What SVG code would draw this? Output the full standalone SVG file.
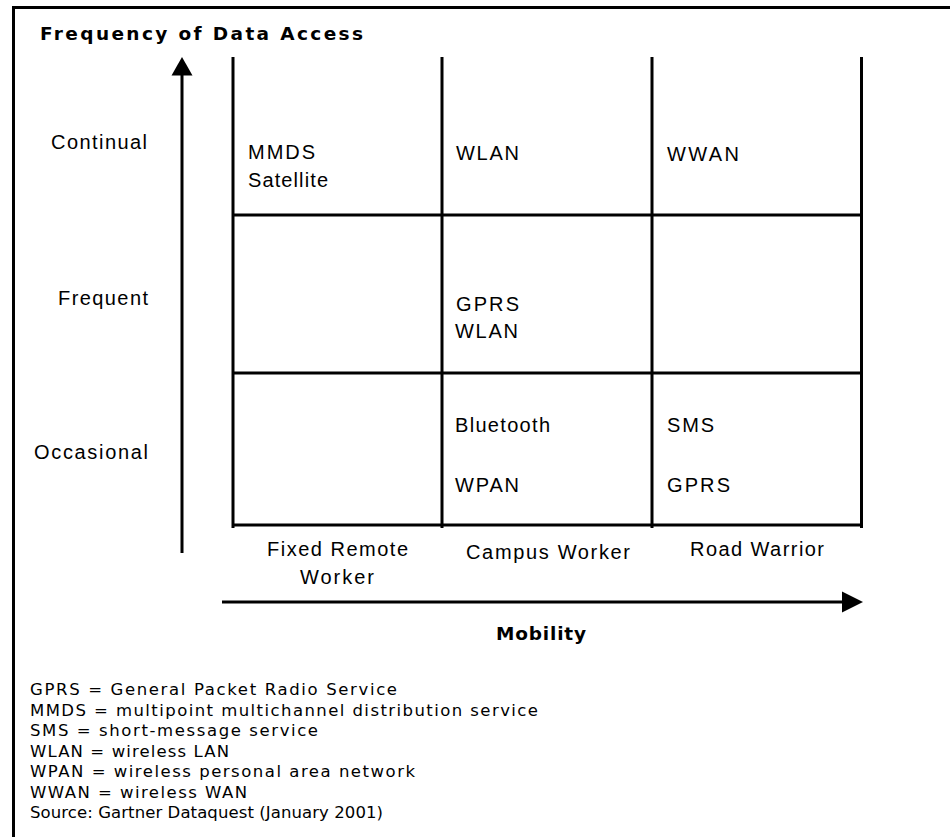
<svg xmlns="http://www.w3.org/2000/svg" width="950" height="837" viewBox="0 0 950 837">
<style>
.ln{stroke:#000;stroke-width:3;fill:none}
.lbl{font-family:"Liberation Sans",Arial,sans-serif;font-size:20px;fill:#000}
.ttl{font-family:"DejaVu Sans",Verdana,sans-serif;font-size:18.5px;font-weight:bold;fill:#000}
.leg{font-family:"DejaVu Sans",Verdana,sans-serif;font-size:16.5px;fill:#000}
.mid{text-anchor:middle}
</style>
<rect width="950" height="837" fill="#fff"/>
<g id="frame">
<line class="ln" x1="13.5" y1="6" x2="13.5" y2="837"/>
<line class="ln" x1="12" y1="7.5" x2="950" y2="7.5"/>
</g>
<g id="grid">
<line class="ln" x1="233" y1="57" x2="233" y2="528"/>
<line class="ln" x1="442" y1="57" x2="442" y2="528"/>
<line class="ln" x1="652" y1="57" x2="652" y2="528"/>
<line class="ln" x1="861.5" y1="57" x2="861.5" y2="528"/>
<line class="ln" x1="233" y1="215" x2="861.5" y2="215"/>
<line class="ln" x1="233" y1="373" x2="861.5" y2="373"/>
<line class="ln" x1="233" y1="525" x2="861.5" y2="525"/>
</g>
<g id="connectors">
<line class="ln" x1="182" y1="72" x2="182" y2="553"/>
<polygon points="171.5,75.5 182,57 192.5,75.5" fill="#000"/>
<line class="ln" x1="222" y1="602" x2="845" y2="602"/>
<polygon points="842,591.5 863,602 842,612.5" fill="#000"/>
</g>
<g id="axis-y">
<text class="ttl" x="40" y="40" textLength="323" lengthAdjust="spacing">Frequency of Data Access</text>
<text class="lbl" x="51" y="149" textLength="96" lengthAdjust="spacing">Continual</text>
<text class="lbl" x="58" y="305" textLength="90" lengthAdjust="spacing">Frequent</text>
<text class="lbl" x="34" y="459" textLength="114" lengthAdjust="spacing">Occasional</text>
</g>
<g id="axis-x">
<text class="lbl mid" x="337.5" y="556" textLength="141" lengthAdjust="spacing">Fixed Remote</text>
<text class="lbl mid" x="337" y="584" textLength="74" lengthAdjust="spacing">Worker</text>
<text class="lbl mid" x="548" y="559" textLength="164" lengthAdjust="spacing">Campus Worker</text>
<text class="lbl mid" x="757" y="556" textLength="134" lengthAdjust="spacing">Road Warrior</text>
<text class="ttl mid" x="541" y="640" textLength="90" lengthAdjust="spacing">Mobility</text>
</g>
<g id="cell-fixed-continual">
<text class="lbl" x="248" y="159" textLength="67" lengthAdjust="spacing">MMDS</text>
<text class="lbl" x="248" y="187" textLength="80" lengthAdjust="spacing">Satellite</text>
</g>
<g id="cell-campus-continual">
<text class="lbl" x="456" y="160" textLength="63" lengthAdjust="spacing">WLAN</text>
</g>
<g id="cell-road-continual">
<text class="lbl" x="667" y="161" textLength="72" lengthAdjust="spacing">WWAN</text>
</g>
<g id="cell-campus-frequent">
<text class="lbl" x="456" y="311" textLength="63" lengthAdjust="spacing">GPRS</text>
<text class="lbl" x="455" y="338" textLength="63" lengthAdjust="spacing">WLAN</text>
</g>
<g id="cell-campus-occasional">
<text class="lbl" x="455" y="432" textLength="95" lengthAdjust="spacing">Bluetooth</text>
<text class="lbl" x="455" y="492" textLength="64" lengthAdjust="spacing">WPAN</text>
</g>
<g id="cell-road-occasional">
<text class="lbl" x="667" y="432" textLength="47" lengthAdjust="spacing">SMS</text>
<text class="lbl" x="667" y="492" textLength="63" lengthAdjust="spacing">GPRS</text>
</g>
<g id="legend">
<text class="leg" x="30" y="695" textLength="367" lengthAdjust="spacing">GPRS = General Packet Radio Service</text>
<text class="leg" x="30" y="715.5" textLength="508" lengthAdjust="spacing">MMDS = multipoint multichannel distribution service</text>
<text class="leg" x="30" y="736" textLength="288" lengthAdjust="spacing">SMS = short-message service</text>
<text class="leg" x="30" y="756.5" textLength="199" lengthAdjust="spacing">WLAN = wireless LAN</text>
<text class="leg" x="30" y="777" textLength="385" lengthAdjust="spacing">WPAN = wireless personal area network</text>
<text class="leg" x="30" y="797.5" textLength="217" lengthAdjust="spacing">WWAN = wireless WAN</text>
<text class="leg" x="30" y="818" textLength="353" lengthAdjust="spacing">Source: Gartner Dataquest (January 2001)</text>
</g>
</svg>
